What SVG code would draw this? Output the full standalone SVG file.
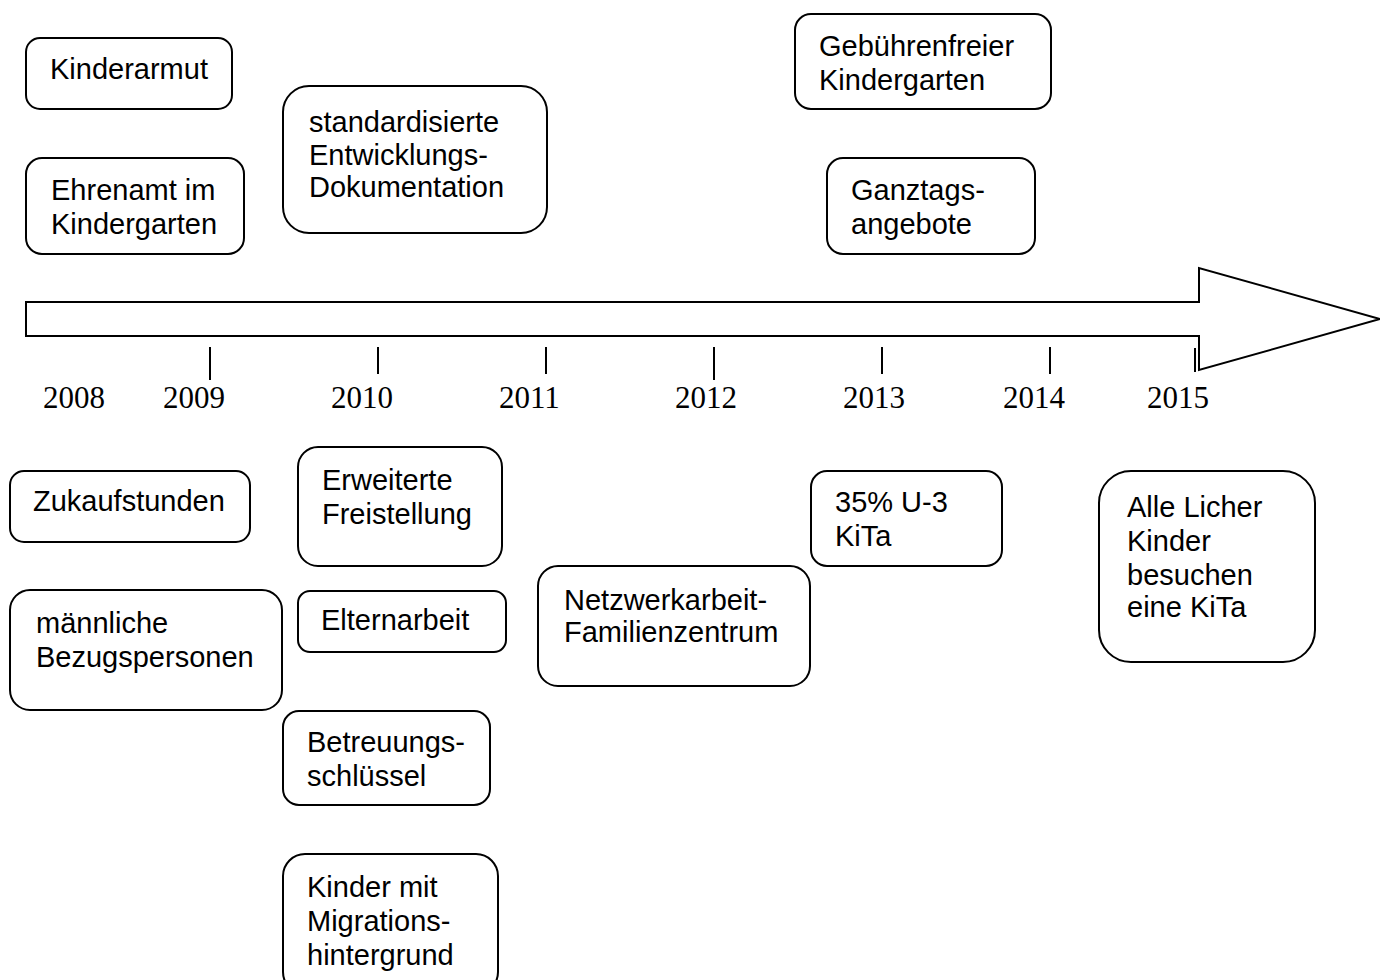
<svg xmlns="http://www.w3.org/2000/svg" width="1380" height="980" viewBox="0 0 1380 980">
<style>
.box{fill:#fff;stroke:#000;stroke-width:2}
.t{font-family:"Liberation Sans",Arial,sans-serif;font-size:29px;fill:#000}
.y{font-family:"Liberation Serif","Times New Roman",serif;font-size:31px;fill:#000}
.tick{stroke:#000;stroke-width:2}
</style>
<rect width="1380" height="980" fill="#fff"/>
<g id="timeline">
<polygon points="26,302 1199,302 1199,268 1380,319 1199,370 1199,336 26,336" fill="#fff" stroke="#000" stroke-width="2"/>
<line class="tick" x1="210" y1="347" x2="210" y2="380"/>
<line class="tick" x1="378" y1="347" x2="378" y2="374"/>
<line class="tick" x1="546" y1="347" x2="546" y2="374"/>
<line class="tick" x1="714" y1="347" x2="714" y2="380"/>
<line class="tick" x1="882" y1="347" x2="882" y2="374"/>
<line class="tick" x1="1050" y1="347" x2="1050" y2="374"/>
<line class="tick" x1="1195" y1="348" x2="1195" y2="372"/>
<text class="y" x="43" y="408">2008</text>
<text class="y" x="163" y="408">2009</text>
<text class="y" x="331" y="408">2010</text>
<text class="y" x="499" y="408">2011</text>
<text class="y" x="675" y="408">2012</text>
<text class="y" x="843" y="408">2013</text>
<text class="y" x="1003" y="408">2014</text>
<text class="y" x="1147" y="408">2015</text>
</g>
<g id="connectors"></g>
<g id="n-kinderarmut"><rect class="box" x="26" y="38" width="206" height="71" rx="14"/><text class="t" x="50" y="79">Kinderarmut</text></g>
<g id="n-ehrenamt"><rect class="box" x="26" y="158" width="218" height="96" rx="16"/><text class="t" x="51" y="200">Ehrenamt im</text><text class="t" x="51" y="234">Kindergarten</text></g>
<g id="n-standard"><rect class="box" x="283" y="86" width="264" height="147" rx="26"/><text class="t" x="309" y="132">standardisierte</text><text class="t" x="309" y="165">Entwicklungs-</text><text class="t" x="309" y="197">Dokumentation</text></g>
<g id="n-gebuehren"><rect class="box" x="795" y="14" width="256" height="95" rx="16"/><text class="t" x="819" y="56">Gebührenfreier</text><text class="t" x="819" y="90">Kindergarten</text></g>
<g id="n-ganztags"><rect class="box" x="827" y="158" width="208" height="96" rx="16"/><text class="t" x="851" y="200">Ganztags-</text><text class="t" x="851" y="234">angebote</text></g>
<g id="n-zukauf"><rect class="box" x="10" y="471" width="240" height="71" rx="14"/><text class="t" x="33" y="511">Zukaufstunden</text></g>
<g id="n-maennlich"><rect class="box" x="10" y="590" width="272" height="120" rx="20"/><text class="t" x="36" y="633">männliche</text><text class="t" x="36" y="667">Bezugspersonen</text></g>
<g id="n-erweitert"><rect class="box" x="298" y="447" width="204" height="119" rx="20"/><text class="t" x="322" y="490">Erweiterte</text><text class="t" x="322" y="524">Freistellung</text></g>
<g id="n-eltern"><rect class="box" x="298" y="591" width="208" height="61" rx="12"/><text class="t" x="321" y="630">Elternarbeit</text></g>
<g id="n-betreuung"><rect class="box" x="283" y="711" width="207" height="94" rx="16"/><text class="t" x="307" y="752">Betreuungs-</text><text class="t" x="307" y="786">schlüssel</text></g>
<g id="n-migration"><rect class="box" x="283" y="854" width="215" height="140" rx="22"/><text class="t" x="307" y="897">Kinder mit</text><text class="t" x="307" y="931">Migrations-</text><text class="t" x="307" y="965">hintergrund</text></g>
<g id="n-netzwerk"><rect class="box" x="538" y="566" width="272" height="120" rx="20"/><text class="t" x="564" y="610">Netzwerkarbeit-</text><text class="t" x="564" y="642">Familienzentrum</text></g>
<g id="n-u3"><rect class="box" x="811" y="471" width="191" height="95" rx="16"/><text class="t" x="835" y="512">35% U-3</text><text class="t" x="835" y="546">KiTa</text></g>
<g id="n-alle"><rect class="box" x="1099" y="471" width="216" height="191" rx="32"/><text class="t" x="1127" y="517">Alle Licher</text><text class="t" x="1127" y="551">Kinder</text><text class="t" x="1127" y="585">besuchen</text><text class="t" x="1127" y="617">eine KiTa</text></g>
</svg>
